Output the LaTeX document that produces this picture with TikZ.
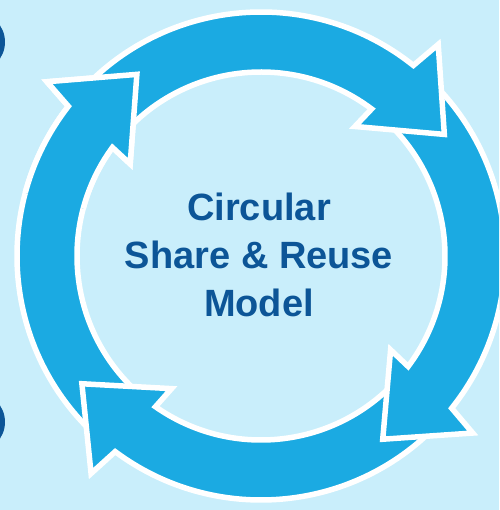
\documentclass[tikz,border=0pt]{standalone}
\usepackage{fontspec}
\setmainfont{Liberation Sans}
\definecolor{bg}{HTML}{C9EEFB}
\definecolor{ringblue}{HTML}{1BAAE2}
\definecolor{navy}{HTML}{0C5597}
\tikzset{
  arrowbody/.style={fill=ringblue, draw=white, line width=5.5pt, line join=miter, miter limit=10},
  titletext/.style={font=\bfseries\fontsize{38}{48}\selectfont, text=navy, align=center}
}
% One curved arrow of the ring: #2 = tail angle, #3 = angle of the head's base
\newcommand\ringarrow[3][]{%
  \filldraw[arrowbody,#1] (#2:244) arc[start angle=#2, end angle={#3-0.7}, radius=244]
    -- ({#3-2}:276) -- ({#3-18.5}:220) -- ({#3+2}:160) -- ({#3+1}:184)
    arc[start angle={#3+1}, end angle=#2, radius=184] -- cycle;}
\begin{document}
\begin{tikzpicture}[x=1pt,y=1pt]
  \useasboundingbox (-261,-254) rectangle (238,256);
  \clip (-261,-254) rectangle (238,256);
  \fill[bg] (-261,-254) rectangle (238,256);
  % dark discs at the left edge
  \fill[navy] (-286,214) circle (30);
  \fill[navy] (-286,-166) circle (30);
  % the four arrows, each head lying over the next tail
  \ringarrow{228}{142.85}
  \ringarrow{-44}{-126}
  \ringarrow{46}{-37.9}
  \ringarrow{137}{52.05}
  \begin{scope}
    \clip (0,0) -- (165:330) arc[start angle=165, end angle=108, radius=330] -- cycle;
    \ringarrow{228}{142.85}
  \end{scope}
  % the last line's baseline is the node's base
  \node[titletext, anchor=base] (title) at (-2,-61) {Circular\\Share \& Reuse\\Model};
\end{tikzpicture}
\end{document}
